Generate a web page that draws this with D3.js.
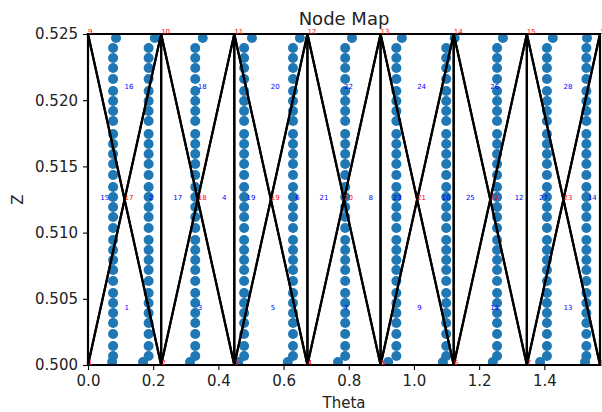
<!DOCTYPE html>
<html>
<head>
<meta charset="utf-8">
<script src="https://cdn.jsdelivr.net/npm/d3@7"></script>
<style>
  html, body { margin: 0; padding: 0; background: #fff; }
  svg { display: block; font-family: "DejaVu Sans", sans-serif; }
</style>
</head>
<body>
<svg id="chart" width="602" height="412"></svg>
<script>
// ---------------- DATA ----------------
const title = "Node Map";
const xLabel = "Theta";
const yLabel = "Z";
const xTicks = [0.0, 0.2, 0.4, 0.6, 0.8, 1.0, 1.2, 1.4];
const yTicks = [0.500, 0.505, 0.510, 0.515, 0.520, 0.525];

// nodes (red labels)
const nodeIds = [1, 2, 3, 4, 5, 6, 7, 8, 9, 10, 11, 12, 13, 14, 15, 16, 17, 18, 19, 20, 21, 22, 23];
const nodeTheta = [0, 0.2244, 0.4488, 0.6732, 0.8976, 1.1220, 1.3464, 1.5708,
                   0, 0.2244, 0.4488, 0.6732, 0.8976, 1.1220, 1.3464, 1.5708,
                   0.1122, 0.3366, 0.5610, 0.7854, 1.0098, 1.2342, 1.4586];
const nodeZ = [0.5, 0.5, 0.5, 0.5, 0.5, 0.5, 0.5, 0.5,
               0.525, 0.525, 0.525, 0.525, 0.525, 0.525, 0.525, 0.525,
               0.5125, 0.5125, 0.5125, 0.5125, 0.5125, 0.5125, 0.5125];

// elements (blue labels) : triangle connectivity by node id
const elemIds = [1, 2, 3, 4, 5, 6, 7, 8, 9, 10, 11, 12, 13, 14,
                 15, 16, 17, 18, 19, 20, 21, 22, 23, 24, 25, 26, 27, 28];
const elemNodes = [
  [1, 2, 17], [2, 10, 17], [2, 3, 18], [3, 11, 18], [3, 4, 19], [4, 12, 19], [4, 5, 20],
  [5, 13, 20], [5, 6, 21], [6, 14, 21], [6, 7, 22], [7, 15, 22], [7, 8, 23], [8, 16, 23],
  [1, 17, 9], [9, 10, 17], [2, 18, 10], [10, 11, 18], [3, 19, 11], [11, 12, 19], [4, 20, 12],
  [12, 13, 20], [5, 21, 13], [13, 14, 21], [6, 22, 14], [14, 15, 22], [7, 23, 15], [15, 16, 23]
];

// scatter points: columns of dots
const dotColTheta       = [0.077, 0.186, 0.329, 0.479, 0.629, 0.789, 0.946, 1.099, 1.255, 1.408, 1.529];
const dotColTopTheta    = [0.086, 0.205, 0.352, 0.503, 0.650, 0.810, 0.963, 1.125, 1.273, 1.426, 1.531];
const dotColBottomTheta = [0.074, 0.169, 0.313, 0.461, 0.613, 0.767, 0.921, 1.089, 1.242, 1.387, 1.525];
const dotTopZ = 0.52470;
const dotBottomZ = 0.50023;
const dotBodyZ = [0.52394, 0.52319, 0.52243, 0.52160, 0.52069, 0.51994, 0.51918, 0.51843,
                  0.51745, 0.51669, 0.51594, 0.51518, 0.51435, 0.51344, 0.51269, 0.51193,
                  0.51118, 0.51035, 0.50944, 0.50869, 0.50793, 0.50718, 0.50634, 0.50544,
                  0.50468, 0.50393, 0.50317, 0.50234, 0.50143, 0.50068];

// ---------------- LAYOUT ----------------
const svg = d3.select("#chart");
const L = 88, R = 600, T = 34, B = 365;
const x = d3.scaleLinear().domain([0, Math.PI / 2]).range([L, R]);
const y = d3.scaleLinear().domain([0.5, 0.525]).range([B, T]);

const defs = svg.append("defs");
defs.append("clipPath").attr("id", "clip")
  .append("rect").attr("x", L).attr("y", T).attr("width", R - L).attr("height", B - T);

const plot = svg.append("g").attr("clip-path", "url(#clip)");

// scatter
const dots = [];
dotColTheta.forEach((t, i) => {
  dots.push({ t: dotColTopTheta[i], z: dotTopZ });
  dotBodyZ.forEach(z => dots.push({ t: t, z: z }));
  dots.push({ t: dotColBottomTheta[i], z: dotBottomZ });
});
plot.append("g").selectAll("circle").data(dots).join("circle")
  .attr("cx", d => x(d.t)).attr("cy", d => y(d.z)).attr("r", 5)
  .attr("fill", "#1f77b4");

// element edges
const nodeById = new Map(nodeIds.map((id, i) => [id, { t: nodeTheta[i], z: nodeZ[i] }]));
const line = d3.line().x(d => x(d.t)).y(d => y(d.z));
const edgeG = svg.append("g");
elemNodes.forEach(tri => {
  const pts = tri.map(id => nodeById.get(id));
  edgeG.append("path").attr("d", line(pts) + "Z")
    .attr("fill", "none").attr("stroke", "#000").attr("stroke-width", 2.2)
    .attr("stroke-linejoin", "miter");
});

// axes frame
svg.append("rect").attr("x", L).attr("y", T).attr("width", R - L).attr("height", B - T)
  .attr("fill", "none").attr("stroke", "#000").attr("stroke-width", 1.1);

// axes
const xAxis = d3.axisBottom(x).tickValues(xTicks).tickFormat(d3.format(".1f")).tickSize(5).tickPadding(5);
const yAxis = d3.axisLeft(y).tickValues(yTicks).tickFormat(d3.format(".3f")).tickSize(5).tickPadding(5);
const gx = svg.append("g").attr("transform", `translate(0,${B})`).call(xAxis);
const gy = svg.append("g").attr("transform", `translate(${L},0)`).call(yAxis);
[gx, gy].forEach(g => {
  g.select(".domain").remove();
  g.selectAll(".tick line").attr("stroke", "#000").attr("stroke-width", 1.1);
  g.selectAll(".tick text").attr("fill", "#222").style("font-size", "15px")
    .style("font-family", "DejaVu Sans, sans-serif");
});
gx.selectAll(".tick text").attr("dy", "0.75em");

// node labels (red)
const textG = svg.append("g").style("font-size", "7px");
nodeIds.forEach((id, i) => {
  textG.append("text").attr("x", x(nodeTheta[i])).attr("y", y(nodeZ[i]))
    .attr("fill", "red").text(id);
});
// element labels (blue) at centroids
elemIds.forEach((id, i) => {
  const pts = elemNodes[i].map(n => nodeById.get(n));
  const ct = d3.mean(pts, p => p.t), cz = d3.mean(pts, p => p.z);
  textG.append("text").attr("x", x(ct)).attr("y", y(cz))
    .attr("fill", "blue").text(id);
});

// title & labels
svg.append("text").attr("x", (L + R) / 2).attr("y", 25).attr("text-anchor", "middle")
  .style("font-size", "18px").attr("fill", "#222").text(title);
svg.append("text").attr("x", (L + R) / 2).attr("y", 408).attr("text-anchor", "middle")
  .style("font-size", "15px").attr("fill", "#222").text(xLabel);
svg.append("text").attr("transform", `translate(23,${(T + B) / 2}) rotate(-90)`)
  .attr("text-anchor", "middle").style("font-size", "15px").attr("fill", "#222").text(yLabel);
</script>
</body>
</html>
